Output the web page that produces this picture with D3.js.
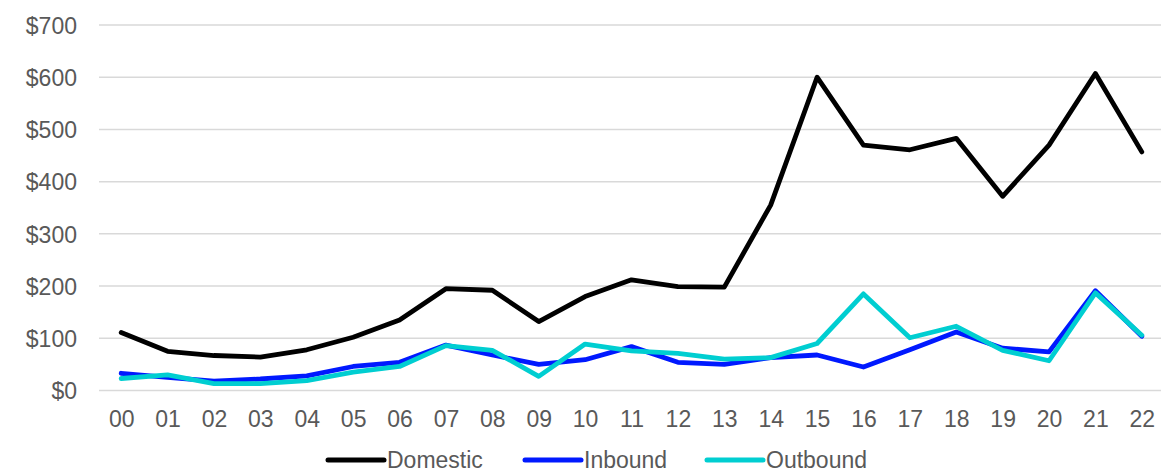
<!DOCTYPE html>
<html>
<head>
<meta charset="utf-8">
<script src="https://cdn.jsdelivr.net/npm/d3@7"></script>
<style>
  html, body { margin: 0; padding: 0; background: #fff; }
  svg { display: block; font-family: "Liberation Sans", Arial, sans-serif; }
</style>
</head>
<body>
<svg id="chart" width="1161" height="472"></svg>
<script>
// Years (two-digit labels) along the x axis
const years = ["00","01","02","03","04","05","06","07","08","09","10","11",
               "12","13","14","15","16","17","18","19","20","21","22"];

// Spending series, in dollars
const domestic = [111, 75, 67, 64, 78, 102, 135, 195, 192, 132, 180, 212,
                  199, 198, 355, 600, 470, 461, 483, 372, 470, 607, 457];
const inbound  = [33, 25, 18, 22, 28, 46, 54, 87, 68, 50, 59, 84,
                  54, 50, 63, 68, 45, 78, 112, 81, 74, 191, 104];
const outbound = [23, 30, 13, 13, 19, 35, 46, 86, 77, 27, 89, 76,
                  71, 60, 63, 90, 185, 101, 123, 77, 57, 187, 106];

const seriesNames = ["Domestic", "Inbound", "Outbound"];
const yTicks = [0, 100, 200, 300, 400, 500, 600, 700];

const series = [
  { name: seriesNames[0], values: domestic, color: "#000000" },
  { name: seriesNames[1], values: inbound,  color: "#0019FF" },
  { name: seriesNames[2], values: outbound, color: "#00CED1" }
];

const svg = d3.select("#chart");
const plotLeft = 98, plotRight = 1165, plotTop = 25, plotBottom = 390.5;

const x = d3.scalePoint().domain(years).range([plotLeft, plotRight]).padding(0.5);
const y = d3.scaleLinear().domain([0, 700]).range([plotBottom, plotTop]);

// Horizontal gridlines
svg.append("g")
  .selectAll("line")
  .data(yTicks)
  .join("line")
  .attr("x1", plotLeft + 1)
  .attr("x2", 1161)
  .attr("y1", d => y(d))
  .attr("y2", d => y(d))
  .attr("stroke", "#d9d9d9")
  .attr("stroke-width", 1.5);

// Y axis labels
const yAxis = svg.append("g")
  .attr("transform", "translate(77,0)")
  .call(d3.axisLeft(y).tickValues(yTicks).tickSize(0).tickPadding(0)
        .tickFormat(d => "$" + d));
yAxis.select(".domain").remove();
yAxis.selectAll("text")
  .attr("fill", "#595959")
  .style("font-size", "23px")
  .attr("dy", "0.36em");

// X axis labels
const xAxis = svg.append("g")
  .attr("transform", "translate(0,410)")
  .call(d3.axisBottom(x).tickSize(0).tickPadding(0));
xAxis.select(".domain").remove();
xAxis.selectAll("text")
  .attr("fill", "#595959")
  .style("font-size", "23px")
  .attr("dy", "0.72em");

// Series lines
const line = d3.line()
  .x((d, i) => x(years[i]))
  .y(d => y(d));

svg.append("g")
  .selectAll("path")
  .data(series)
  .join("path")
  .attr("d", d => line(d.values))
  .attr("fill", "none")
  .attr("stroke", d => d.color)
  .attr("stroke-width", 4.8)
  .attr("stroke-linejoin", "round")
  .attr("stroke-linecap", "round");

// Legend
const legendX = [328, 525, 707];
const legend = svg.append("g")
  .selectAll("g")
  .data(series)
  .join("g")
  .attr("transform", (d, i) => `translate(${legendX[i]},460)`);

legend.append("line")
  .attr("x1", 0).attr("x2", 56)
  .attr("y1", 0).attr("y2", 0)
  .attr("stroke", d => d.color)
  .attr("stroke-width", 5)
  .attr("stroke-linecap", "round");

legend.append("text")
  .attr("x", 59)
  .attr("y", 0)
  .attr("dy", "0.36em")
  .attr("fill", "#595959")
  .style("font-size", "23px")
  .text(d => d.name);
</script>
</body>
</html>
